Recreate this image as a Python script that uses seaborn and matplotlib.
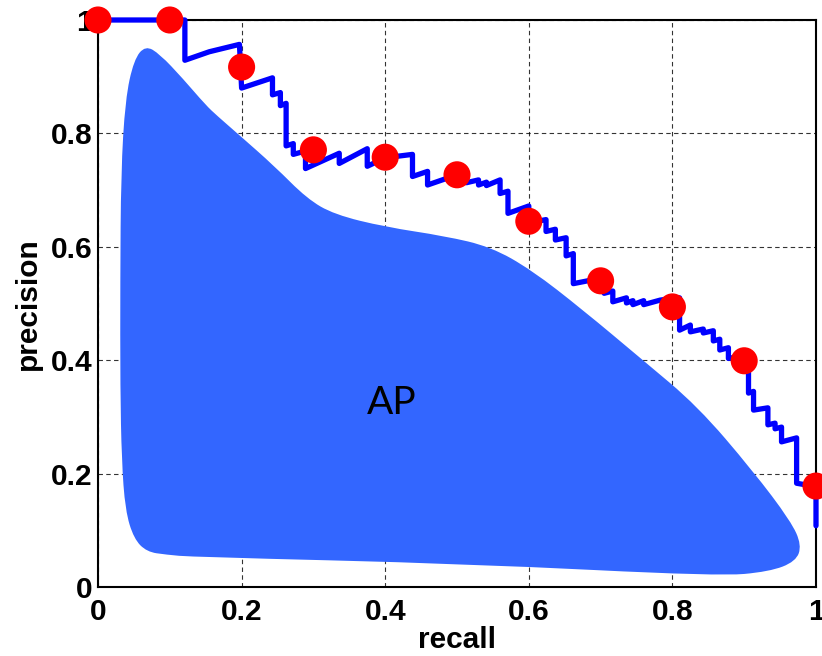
import matplotlib
matplotlib.use("Agg")
import matplotlib.pyplot as plt
from matplotlib.path import Path
from matplotlib.patches import PathPatch
import seaborn as sns
import pandas as pd

# precision-recall curve vertices
curve_recall = [0.000, 0.121, 0.121, 0.155, 0.197, 0.200, 0.243, 0.243, 0.254, 0.254,
                0.262, 0.262, 0.272, 0.272, 0.289, 0.289, 0.336, 0.336, 0.375, 0.375,
                0.400, 0.438, 0.438, 0.459, 0.459, 0.500, 0.513, 0.513, 0.530, 0.530,
                0.541, 0.541, 0.560, 0.560, 0.571, 0.571, 0.600, 0.600, 0.624, 0.624,
                0.637, 0.637, 0.652, 0.652, 0.662, 0.662, 0.690, 0.705, 0.705, 0.717,
                0.717, 0.736, 0.736, 0.745, 0.745, 0.760, 0.760, 0.783, 0.806, 0.810,
                0.810, 0.825, 0.825, 0.843, 0.843, 0.857, 0.857, 0.866, 0.866, 0.878,
                0.878, 0.906, 0.906, 0.913, 0.913, 0.933, 0.933, 0.943, 0.943, 0.952,
                0.952, 0.973, 0.973, 1.000, 1.000]
curve_precision = [1.000, 1.000, 0.929, 0.944, 0.957, 0.880, 0.898, 0.868, 0.872, 0.849,
                   0.853, 0.778, 0.782, 0.763, 0.769, 0.738, 0.765, 0.747, 0.773, 0.742,
                   0.757, 0.763, 0.724, 0.733, 0.709, 0.727, 0.726, 0.713, 0.718, 0.709,
                   0.714, 0.708, 0.718, 0.694, 0.698, 0.659, 0.672, 0.642, 0.648, 0.627,
                   0.631, 0.612, 0.616, 0.584, 0.588, 0.535, 0.542, 0.543, 0.518, 0.522,
                   0.503, 0.510, 0.501, 0.505, 0.498, 0.505, 0.498, 0.506, 0.510, 0.510,
                   0.453, 0.462, 0.450, 0.455, 0.448, 0.452, 0.434, 0.437, 0.418, 0.422,
                   0.403, 0.410, 0.342, 0.345, 0.312, 0.316, 0.286, 0.289, 0.279, 0.282,
                   0.256, 0.263, 0.183, 0.177, 0.108]

# 11-point interpolated precision
interp_recall = [0.0, 0.1, 0.2, 0.3, 0.4, 0.5, 0.6, 0.7, 0.8, 0.9, 1.0]
interp_precision = [1.000, 1.000, 0.917, 0.771, 0.758, 0.727, 0.645, 0.540, 0.494, 0.399, 0.178]

# control outline of the "AP" area shape (smoothed when drawn)
blob_x = [0.066, 0.050, 0.038, 0.032, 0.031, 0.031, 0.033, 0.038, 0.050, 0.068, 0.095,
          0.131, 0.515, 0.865, 0.935, 0.972, 0.980, 0.965, 0.912, 0.835, 0.758, 0.675,
          0.604, 0.547, 0.483, 0.400, 0.329, 0.291, 0.246, 0.195, 0.166, 0.150,
          0.118, 0.086]
blob_y = [0.955, 0.930, 0.860, 0.729, 0.540, 0.350, 0.224, 0.135, 0.085, 0.062, 0.057,
          0.053, 0.041, 0.019, 0.027, 0.045, 0.074, 0.116, 0.205, 0.319, 0.401, 0.489,
          0.559, 0.600, 0.619, 0.635, 0.657, 0.685, 0.742, 0.799, 0.831, 0.850,
          0.897, 0.940]

x_ticks = [0, 0.2, 0.4, 0.6, 0.8, 1]
x_tick_labels = ["0", "0.2", "0.4", "0.6", "0.8", "1"]
y_ticks = [0, 0.2, 0.4, 0.6, 0.8, 1]
y_tick_labels = ["0", "0.2", "0.4", "0.6", "0.8", "1"]

curve_df = pd.DataFrame({"recall": curve_recall, "precision": curve_precision})
interp_df = pd.DataFrame({"recall": interp_recall, "precision": interp_precision})

sns.set_theme(style="white")
plt.rcParams['font.family'] = ['Liberation Sans', 'DejaVu Sans']
plt.rcParams['text.color'] = 'black'
plt.rcParams['axes.labelcolor'] = 'black'

fig = plt.figure(figsize=(8.22, 6.56), dpi=100)
ax = fig.add_axes([98 / 822, 1 - 587 / 656, (816 - 98) / 822, (587 - 20) / 656])

# smooth closed outline: quadratic curves through midpoints, outline points as controls
n = len(blob_x)
mids = [((blob_x[i] + blob_x[(i + 1) % n]) / 2, (blob_y[i] + blob_y[(i + 1) % n]) / 2)
        for i in range(n)]
verts = [mids[-1]]
codes = [Path.MOVETO]
for i in range(n):
    verts += [(blob_x[i], blob_y[i]), mids[i]]
    codes += [Path.CURVE3, Path.CURVE3]
verts.append(mids[-1])
codes.append(Path.CLOSEPOLY)
ax.add_patch(PathPatch(Path(verts, codes), facecolor="#3366ff", edgecolor="none",
                       zorder=2))

sns.lineplot(data=curve_df, x="recall", y="precision", sort=False, estimator=None,
             color="#0000ff", lw=3.8, ax=ax, zorder=3, clip_on=False)
sns.scatterplot(data=interp_df, x="recall", y="precision", s=380, color="#ff0000",
                edgecolor="none", ax=ax, zorder=4, clip_on=False)

ax.text(0.409, 0.325, "AP", fontsize=28, color="black", ha="center", va="center",
        family=["Lato", "DejaVu Sans"], zorder=5)

ax.set_xlim(0, 1)
ax.set_ylim(0, 1)
ax.set_xticks(x_ticks)
ax.set_xticklabels(x_tick_labels)
ax.set_yticks(y_ticks)
ax.set_yticklabels(y_tick_labels)
ax.tick_params(axis="both", direction="in", length=6, width=1, colors="black",
               labelsize=21.5)
ax.tick_params(axis="x", pad=8)
ax.tick_params(axis="y", pad=4)
for lab in ax.get_xticklabels() + ax.get_yticklabels():
    lab.set_fontweight("bold")

ax.grid(True, color="black", linestyle=(0, (4, 3)), linewidth=0.8, alpha=0.8)
ax.set_axisbelow(True)
for sp in ax.spines.values():
    sp.set_visible(True)
    sp.set_color("black")
    sp.set_linewidth(1.5)

ax.set_xlabel("recall", fontsize=21.5, fontweight="bold", labelpad=0, color="black")
ax.set_ylabel("precision", fontsize=21.5, fontweight="bold", labelpad=6, color="black")

fig.savefig("out.png", dpi=100)
